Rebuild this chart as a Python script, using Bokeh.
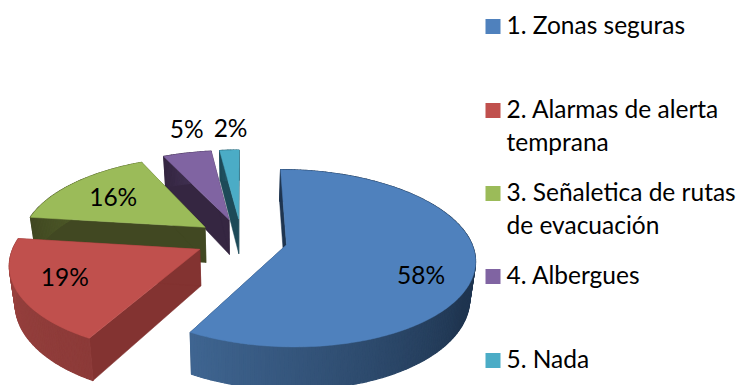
import math
from bokeh.plotting import figure
from bokeh.models import Range1d
from bokeh.core.properties import value
from bokeh.embed import file_html
from bokeh.resources import INLINE

categories = ["1. Zonas seguras", "2. Alarmas de alerta\ntemprana", "3. Señaletica de rutas\nde evacuación", "4. Albergues", "5. Nada"]
shares = [58, 19, 16, 5, 2]
labels = ["58%", "19%", "16%", "5%", "2%"]
top_colors = ["#4f81bd", "#c0504d", "#9bbb59", "#8064a2", "#4bacc6"]
side_colors = ["#1f3550", "#833331", "#414822", "#352641", "#1d4a58"]
rim_near = ["#3f6591", "#9b4340", "#5a6b2e", "#4a3a60", "#2a6a7c"]
rim_far = ["#1f3550", "#8c3a38", "#414822", "#352641", "#1d4a58"]

CX, CY, A, B, PERSP, EXPLODE, DEPTH, SHRINK = 241, 239, 184, 85, 0.15, 0.25, 36, 0.975
LABEL_R = [0.70, 0.62, 0.62, 1.35, 1.35]
LABEL_NUDGE = [(4, 14), (-25, 1), (-8, -3), (12, -5), (4, -2)]
LEGEND_X, LEGEND_ROWS, LINE_GAP = 485, [26, 110, 193, 276, 360], 33
TEXT_LIFT = 2


def project(u, v):
    k = 1 / (1 + PERSP * v)
    return CX + A * u * k, CY - B * v * k, k


def low(u, v):
    x, y, k = project(u, v)
    return CX + (x - CX) * SHRINK, y + DEPTH * k


def mix(c1, c2, t):
    a = [int(c1[i:i + 2], 16) for i in (1, 3, 5)]
    b = [int(c2[i:i + 2], 16) for i in (1, 3, 5)]
    return "#%02x%02x%02x" % tuple(round(a[i] + (b[i] - a[i]) * t) for i in range(3))


p = figure(width=739, height=385, x_range=Range1d(0, 739), y_range=Range1d(385, 0),
           output_backend="svg", toolbar_location=None, min_border=0,
           outline_line_color=None, background_fill_color="white", border_fill_color="white")
p.axis.visible = False
p.grid.visible = False

total = sum(shares)
spans, acc = [], 0
for s in shares:
    spans.append((acc / total * 360, (acc + s) / total * 360))
    acc += s

tx, ty = [], []
for i in [4, 3, 2, 1, 0]:
    a0, a1 = spans[i]
    mid = math.radians((a0 + a1) / 2)
    ox, oy = EXPLODE * math.sin(mid), EXPLODE * math.cos(mid)
    n = max(4, int(a1 - a0))
    angs = [a0 + (a1 - a0) * j / n for j in range(n + 1)]
    rim = [(ox + math.sin(math.radians(a)), oy + math.cos(math.radians(a))) for a in angs]

    for pt in (rim[0], rim[-1]):
        t1, t2 = project(*pt), project(ox, oy)
        b1, b2 = low(*pt), low(ox, oy)
        p.patch([t1[0], t2[0], b2[0], b1[0]], [t1[1], t2[1], b2[1], b1[1]],
                fill_color=side_colors[i], line_color=side_colors[i], line_width=0.5)
    for j in range(n):
        if i == 0:
            t = min(1, max(0, (angs[j] - 120) / 88))
        else:
            t = min(1, max(0, (angs[j] - a0) / max(a1 - a0, 1)))
        col = mix(rim_far[i], rim_near[i], t)
        u0, u1 = rim[j], rim[j + 1]
        t0, t1 = project(*u0), project(*u1)
        b0, b1 = low(*u0), low(*u1)
        p.patch([t0[0], t1[0], b1[0], b0[0]], [t0[1], t1[1], b1[1], b0[1]],
                fill_color=col, line_color=col, line_width=1.2)
    pts = [project(ox, oy)] + [project(*r) for r in rim]
    p.patch([q[0] for q in pts], [q[1] for q in pts], fill_color=top_colors[i],
            line_color=top_colors[i], line_width=0.5)

    q = project(ox + LABEL_R[i] * math.sin(mid), oy + LABEL_R[i] * math.cos(mid))
    tx.append(q[0] + LABEL_NUDGE[i][0])
    ty.append(q[1] + LABEL_NUDGE[i][1])

p.text(tx, ty, text=labels[::-1], text_font=value("Lato"), text_font_size="24.5px", text_color="#000000",
       text_align="center", text_baseline="middle")

for i, name in enumerate(categories):
    p.rect([LEGEND_X + 7.5], [LEGEND_ROWS[i]], width=15, height=15, fill_color=top_colors[i], line_color=None)
    for j, line in enumerate(name.split("\n")):
        p.text([LEGEND_X + 21], [LEGEND_ROWS[i] + j * LINE_GAP - TEXT_LIFT], text=[line], text_font=value("Lato"),
               text_font_size="24.5px", text_color="#000000", text_align="left", text_baseline="middle")

open("out.html", "w").write(file_html(p, INLINE))
